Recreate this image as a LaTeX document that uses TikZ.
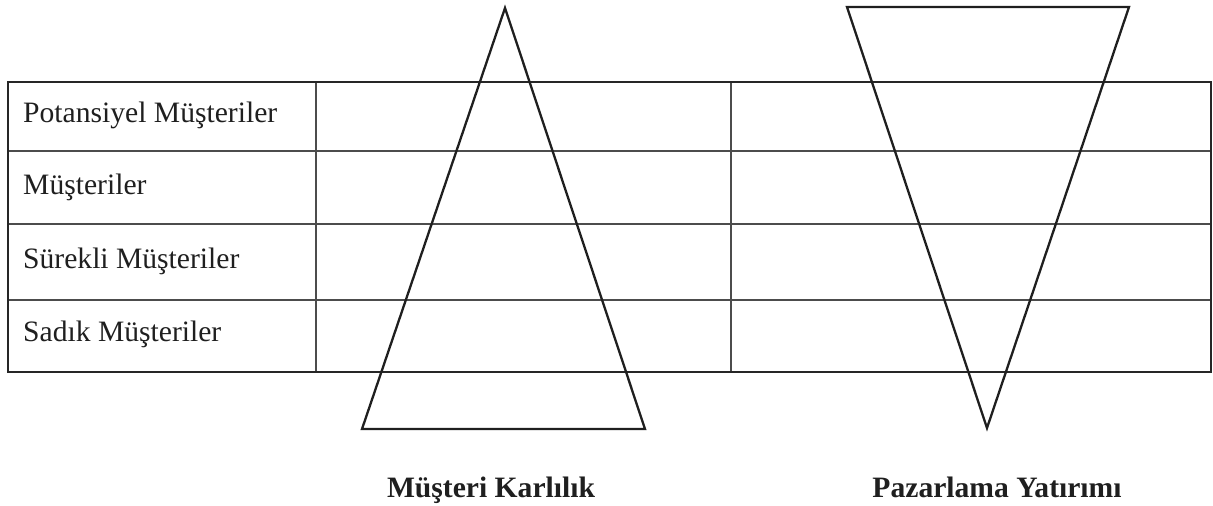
\documentclass[tikz,border=0pt]{standalone}
\usepackage{fontspec}
\setmainfont{Liberation Serif}
\begin{document}
\begin{tikzpicture}[x=1pt,y=-1pt,
  outer/.style={draw=black!85,line width=2.6pt},
  inner/.style={draw=black!70,line width=1.5pt},
  tri/.style={draw=black!88,line width=2.3pt,line join=miter},
  rowtext/.style={anchor=base west,inner sep=0pt,font=\fontsize{29.6}{33}\selectfont,text=black!88},
  label/.style={anchor=base,inner sep=0pt,font=\fontsize{29.6}{33}\selectfont\bfseries,text=black!88}]
\useasboundingbox (0,0) rectangle (1213,506);
% table grid
\draw[inner] (8,151) -- (1211,151);
\draw[inner] (8,224) -- (1211,224);
\draw[inner] (8,300) -- (1211,300);
\draw[inner] (316,82) -- (316,372);
\draw[inner] (731,82) -- (731,372);
\draw[outer] (8,82) rectangle (1211,372);
% row labels
\node[rowtext] (r1) at (23,122) {Potansiyel Müşteriler};
\node[rowtext] (r2) at (23,194) {Müşteriler};
\node[rowtext] (r3) at (23,268) {Sürekli Müşteriler};
\node[rowtext] (r4) at (23,341) {Sadık Müşteriler};
% triangles
\coordinate (a1) at (505,8);
\coordinate (a2) at (645,429);
\coordinate (a3) at (362,429);
\draw[tri] (a1) -- (a2) -- (a3) -- cycle;
\coordinate (b1) at (847,7);
\coordinate (b2) at (1129,7);
\coordinate (b3) at (987,428);
\draw[tri] (b1) -- (b2) -- (b3) -- cycle;
% captions
\node[label] (l1) at (491,497) {Müşteri Karlılık};
\node[label] (l2) at (997,497) {Pazarlama Yatırımı};
\end{tikzpicture}
\end{document}
